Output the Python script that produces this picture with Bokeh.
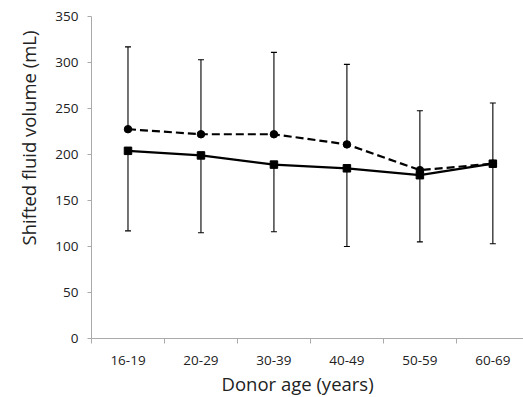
from bokeh.plotting import figure
from bokeh.models import Range1d, FixedTicker, Whisker, TeeHead, ColumnDataSource, Title
from bokeh.embed import file_html
from bokeh.resources import INLINE

categories = ["16-19", "20-29", "30-39", "40-49", "50-59", "60-69"]
dashed_mean = [227.5, 222, 222, 211, 183, 190]
dashed_upper = [317, 303, 311, 298, 247.5, 256]
solid_mean = [204, 199, 189, 185, 177.5, 190]
solid_lower = [117, 115, 116, 100, 105, 103]
y_ticks = [0, 50, 100, 150, 200, 250, 300, 350]
x_title = "Donor age (years)"
y_title = "Shifted fluid volume (mL)"

xs = [i + 0.5 for i in range(len(categories))]

p = figure(width=523, height=397, output_backend="svg", toolbar_location=None,
           x_range=Range1d(0, 5.92), y_range=Range1d(0, 350),
           min_border_left=91, min_border_right=0, min_border_top=16, min_border_bottom=59)
p.outline_line_color = None
p.grid.grid_line_color = None
p.background_fill_color = "white"

font = "Open Sans"
p.xaxis.ticker = FixedTicker(ticks=xs, minor_ticks=list(range(0, 7)))
p.xaxis.major_label_overrides = {x: c for x, c in zip(xs, categories)}
p.xaxis.major_tick_out = 0
p.xaxis.major_tick_in = 0
p.xaxis.minor_tick_out = 5
p.xaxis.minor_tick_in = 0

p.yaxis.ticker = FixedTicker(ticks=y_ticks)
p.yaxis.major_tick_out = 4
p.yaxis.major_tick_in = 0
p.yaxis.minor_tick_out = 0

for ax in (p.xaxis, p.yaxis):
    ax.axis_line_color = "#aaaaaa"
    ax.major_tick_line_color = "#aaaaaa"
    ax.minor_tick_line_color = "#aaaaaa"
    ax.major_label_text_font = font
    ax.major_label_text_font_size = "13.5px"
    ax.major_label_text_color = "#222222"
p.xaxis.major_label_standoff = 12
p.yaxis.major_label_standoff = 9

p.add_layout(Title(text=x_title, text_font=font, text_font_size="18.5px", text_font_style="normal",
                   text_color="#222222", align="left", offset=130, standoff=2), "below")
p.add_layout(Title(text=y_title, text_font=font, text_font_size="18.5px", text_font_style="normal",
                   text_color="#222222", align="left", offset=93, standoff=24), "left")

src = ColumnDataSource(dict(x=xs, dm=dashed_mean, du=dashed_upper, sm=solid_mean, sl=solid_lower))

p.add_layout(Whisker(source=src, base="x", upper="du", lower="dm", dimension="height",
                     line_color="black", line_width=1.1,
                     upper_head=TeeHead(size=6, line_color="black", line_width=1.1), lower_head=None))
p.add_layout(Whisker(source=src, base="x", upper="sm", lower="sl", dimension="height",
                     line_color="black", line_width=1.1,
                     lower_head=TeeHead(size=6, line_color="black", line_width=1.1), upper_head=None))

p.line("x", "sm", source=src, line_color="black", line_width=2.2)
p.scatter("x", "sm", source=src, marker="square", size=7.5, color="black")
p.line("x", "dm", source=src, line_color="black", line_width=2.2, line_dash="8 4")
p.scatter("x", "dm", source=src, marker="circle", size=7.5, color="black")

open("out.html", "w").write(file_html(p, INLINE))
